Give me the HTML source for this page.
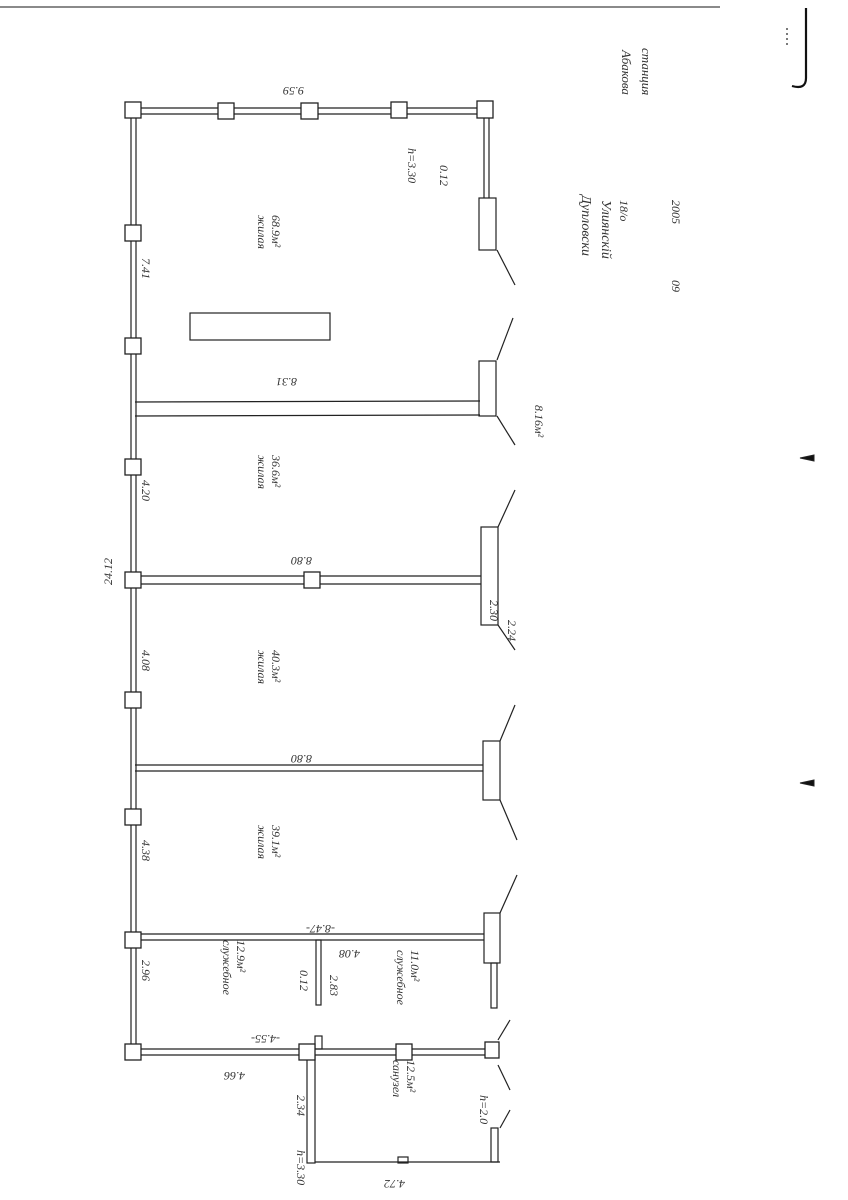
<!DOCTYPE html>
<html><head><meta charset="utf-8"><style>html,body{margin:0;padding:0;background:#fff}svg{display:block}</style></head>
<body>
<svg width="848" height="1200" viewBox="0 0 848 1200" xmlns="http://www.w3.org/2000/svg" font-family="Liberation Serif, serif" font-style="italic" fill="none" stroke="#222">
<g stroke-width="1.2">
<line x1="0" y1="7" x2="720" y2="7" stroke="#444"/>
<path d="M806 8 V78 Q806 90 792 86" stroke-width="2.2" stroke="#111"/>
<line x1="787" y1="28" x2="787" y2="45" stroke-dasharray="2 3"/>
<!-- top wall -->
<line x1="133" y1="108" x2="487" y2="108"/><line x1="133" y1="114" x2="487" y2="114"/>
<!-- left wall -->
<line x1="131" y1="110" x2="131" y2="1052"/><line x1="136" y1="110" x2="136" y2="1052"/>
<!-- right top column -->
<line x1="484" y1="110" x2="484" y2="198"/><line x1="489" y1="110" x2="489" y2="198"/>
<rect x="479" y="198" width="17" height="52"/>
<line x1="497" y1="250" x2="515" y2="285"/><line x1="513" y1="318" x2="497" y2="360"/>
<rect x="479" y="361" width="17" height="55"/>
<line x1="135" y1="402" x2="480" y2="401"/><line x1="135" y1="416" x2="480" y2="415"/>
<line x1="497" y1="416" x2="515" y2="445"/><line x1="515" y1="490" x2="498" y2="527"/>
<rect x="481" y="527" width="17" height="98"/>
<line x1="135" y1="576" x2="481" y2="576"/><line x1="135" y1="584" x2="481" y2="584"/>
<line x1="498" y1="625" x2="515" y2="650"/><line x1="515" y1="705" x2="500" y2="741"/>
<rect x="483" y="741" width="17" height="59"/>
<line x1="135" y1="765" x2="483" y2="765"/><line x1="135" y1="771" x2="483" y2="771"/>
<line x1="500" y1="800" x2="517" y2="840"/><line x1="517" y1="875" x2="500" y2="913"/>
<rect x="484" y="913" width="16" height="50"/>
<rect x="491" y="963" width="6" height="45"/>
<line x1="135" y1="934" x2="484" y2="934"/><line x1="135" y1="940" x2="484" y2="940"/>
<rect x="316" y="940" width="5" height="65"/>
<line x1="135" y1="1049" x2="490" y2="1049"/><line x1="135" y1="1055" x2="490" y2="1055"/>
<line x1="498" y1="1040" x2="510" y2="1020"/><line x1="498" y1="1065" x2="510" y2="1090"/><line x1="510" y1="1110" x2="500" y2="1128"/>
<rect x="307" y="1055" width="8" height="108"/>
<line x1="315" y1="1162" x2="500" y2="1162"/>
<rect x="491" y="1128" width="7" height="34"/>
<rect x="398" y="1157" width="10" height="6"/>
<rect x="315" y="1036" width="7" height="13"/>
<rect x="190" y="313" width="140" height="27"/>
</g>
<g fill="#fff" stroke="#222" stroke-width="1.3">
<rect x="125" y="102" width="16" height="16"/><rect x="218" y="103" width="16" height="16"/><rect x="301" y="103" width="17" height="16"/><rect x="391" y="102" width="16" height="16"/><rect x="477" y="101" width="16" height="17"/>
<rect x="125" y="225" width="16" height="16"/><rect x="125" y="338" width="16" height="16"/><rect x="125" y="459" width="16" height="16"/><rect x="125" y="572" width="16" height="16"/><rect x="125" y="692" width="16" height="16"/><rect x="125" y="809" width="16" height="16"/><rect x="125" y="932" width="16" height="16"/><rect x="125" y="1044" width="16" height="16"/>
<rect x="304" y="572" width="16" height="16"/>
<rect x="299" y="1044" width="16" height="16"/><rect x="396" y="1044" width="16" height="16"/><rect x="485" y="1042" width="14" height="16"/>
</g>
<g fill="#333" stroke="none" font-size="12">
<text x="280" y="93" transform="rotate(180 292 90)">9.59</text>
<text transform="translate(142,258) rotate(90)">7.41</text>
<text transform="translate(142,480) rotate(90)">4.20</text>
<text transform="translate(142,650) rotate(90)">4.08</text>
<text transform="translate(142,840) rotate(90)">4.38</text>
<text transform="translate(142,960) rotate(90)">2.96</text>
<text transform="translate(112,585) rotate(-90)">24.12</text>
<text transform="translate(258,215) rotate(90)">жилая</text>
<text transform="translate(272,215) rotate(90)">68.9м²</text>
<text transform="translate(258,455) rotate(90)">жилая</text>
<text transform="translate(272,455) rotate(90)">36.6м²</text>
<text transform="translate(258,650) rotate(90)">жилая</text>
<text transform="translate(272,650) rotate(90)">40.3м²</text>
<text transform="translate(258,825) rotate(90)">жилая</text>
<text transform="translate(272,825) rotate(90)">39.1м²</text>
<text transform="translate(223,940) rotate(90)">служебное</text>
<text transform="translate(237,940) rotate(90)">12.9м²</text>
<text transform="translate(397,950) rotate(90)">служебное</text>
<text transform="translate(411,950) rotate(90)">11.0м²</text>
<text transform="translate(393,1060) rotate(90)">санузел</text>
<text transform="translate(407,1060) rotate(90)">12.5м²</text>
<text transform="translate(297,378) rotate(180)">8.31</text>
<text transform="translate(312,557) rotate(180)">8.80</text>
<text transform="translate(312,755) rotate(180)">8.80</text>
<text transform="translate(335,925) rotate(180)">-8.47-</text>
<text transform="translate(360,950) rotate(180)">4.08</text>
<text transform="translate(280,1035) rotate(180)">-4.55-</text>
<text transform="translate(245,1072) rotate(180)">4.66</text>
<text transform="translate(405,1180) rotate(180)">4.72</text>
<text transform="translate(408,148) rotate(90)">h=3.30</text>
<text transform="translate(440,165) rotate(90)">0.12</text>
<text transform="translate(535,405) rotate(90)">8.16м²</text>
<text transform="translate(508,620) rotate(90)">2.24</text>
<text transform="translate(490,600) rotate(90)">2.30</text>
<text transform="translate(297,1095) rotate(90)">2.34</text>
<text transform="translate(297,1150) rotate(90)">h=3.30</text>
<text transform="translate(480,1095) rotate(90)">h=2.0</text>
<text transform="translate(300,970) rotate(90)">0.12</text>
<text transform="translate(330,975) rotate(90)">2.83</text>
<text font-size="14" transform="translate(582,195) rotate(90)">Дупловски</text>
<text font-size="14" transform="translate(602,200) rotate(90)">Улиянскій</text>
<text font-size="12" transform="translate(620,200) rotate(90)">18/о</text>
<text font-size="12" transform="translate(672,200) rotate(90)">2005</text>
<text font-size="12" transform="translate(672,280) rotate(90)">09</text>
<text font-size="13" transform="translate(622,50) rotate(90)">Абакова</text>
<text font-size="13" transform="translate(642,48) rotate(90)">станция</text>
</g>
<path d="M800 458 L814 455 L814 461 Z" fill="#111"/>
<path d="M800 783 L814 780 L814 786 Z" fill="#111"/>
</svg>
</body></html>
